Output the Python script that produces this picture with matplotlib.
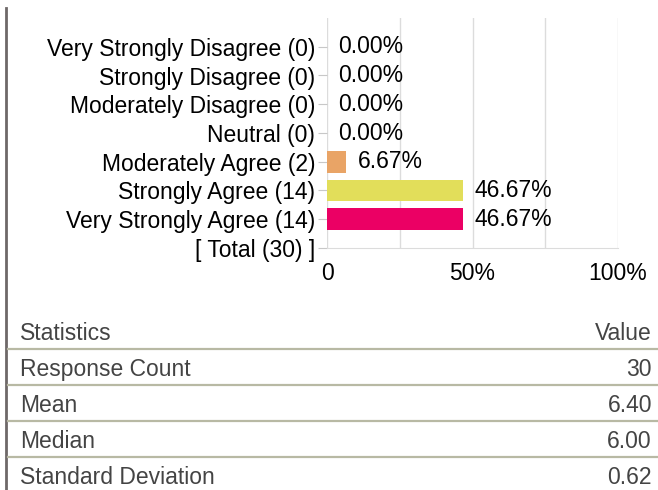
import matplotlib.pyplot as plt
from matplotlib.lines import Line2D

plt.rcParams["font.family"] = ["Liberation Sans", "DejaVu Sans"]

categories = [
    "Very Strongly Disagree",
    "Strongly Disagree",
    "Moderately Disagree",
    "Neutral",
    "Moderately Agree",
    "Strongly Agree",
    "Very Strongly Agree",
]
counts = [0, 0, 0, 0, 2, 14, 14]
percents = [0.00, 0.00, 0.00, 0.00, 6.67, 46.67, 46.67]
bar_colors = ["#e9a466", "#e9a466", "#e9a466", "#e9a466", "#e9a466", "#e2de5a", "#eb0064"]
total = 30

x_ticks = [0, 25, 50, 75, 100]
x_tick_labels = ["0", "", "50%", "", "100%"]

stat_names = ["Response Count", "Mean", "Median", "Standard Deviation"]
stat_values = ["30", "6.40", "6.00", "0.62"]

W, H = 658, 490
FS = 16.5
fig = plt.figure(figsize=(W / 100, H / 100), dpi=100)


def fx(px):
    return px / W


def fy(py):
    return 1 - py / H


# chart area
ax = fig.add_axes([fx(327), fy(248), fx(618) - fx(327), fy(18) - fy(248)])
labels = [f"{c} ({n})" for c, n in zip(categories, counts)] + [f"[ Total ({total}) ]"]
ypos = list(range(len(labels)))
ax.barh(ypos[:-1], percents, height=0.76, color=bar_colors, zorder=3)
for y, p in zip(ypos, percents):
    ax.annotate(f"{p:.2f}%", (p, y), xytext=(8.3, 0), textcoords="offset points",
                va="center", ha="left", fontsize=FS, color="black")

ax.set_xlim(0, 100)
ax.set_ylim(len(labels) - 1, -1)
ax.set_yticks(ypos)
ax.set_yticklabels(labels, fontsize=FS)
ax.set_xticks(x_ticks)
ax.set_xticklabels(x_tick_labels, fontsize=FS)
ax.tick_params(axis="y", length=6.5, color="#c8c8c8", pad=2)
ax.tick_params(axis="x", length=0, pad=10)
ax.grid(axis="x", color="#dcdcdc", linewidth=1, zorder=0)
for side in ["top", "right", "left"]:
    ax.spines[side].set_visible(False)
ax.spines["bottom"].set_color("#dcdcdc")

# left border line
fig.add_artist(Line2D([fx(6), fx(6)], [fy(8), fy(490)], color="#6e6868", linewidth=2))

# statistics table
text_color = "#444444"
line_color = "#b8b9a4"
fig.text(fx(20), fy(333), "Statistics", fontsize=FS, color=text_color, va="center", ha="left")
fig.text(fx(652), fy(333), "Value", fontsize=FS, color=text_color, va="center", ha="right")
row_y = 366
for name, val in zip(stat_names, stat_values):
    fig.add_artist(Line2D([fx(8), fx(658)], [fy(row_y - 17), fy(row_y - 17)], color=line_color, linewidth=1.6))
    fig.text(fx(20), fy(row_y + 3), name, fontsize=FS, color=text_color, va="center", ha="left")
    fig.text(fx(652), fy(row_y + 3), val, fontsize=FS, color=text_color, va="center", ha="right")
    row_y += 36

fig.savefig("out.png", dpi=100)
